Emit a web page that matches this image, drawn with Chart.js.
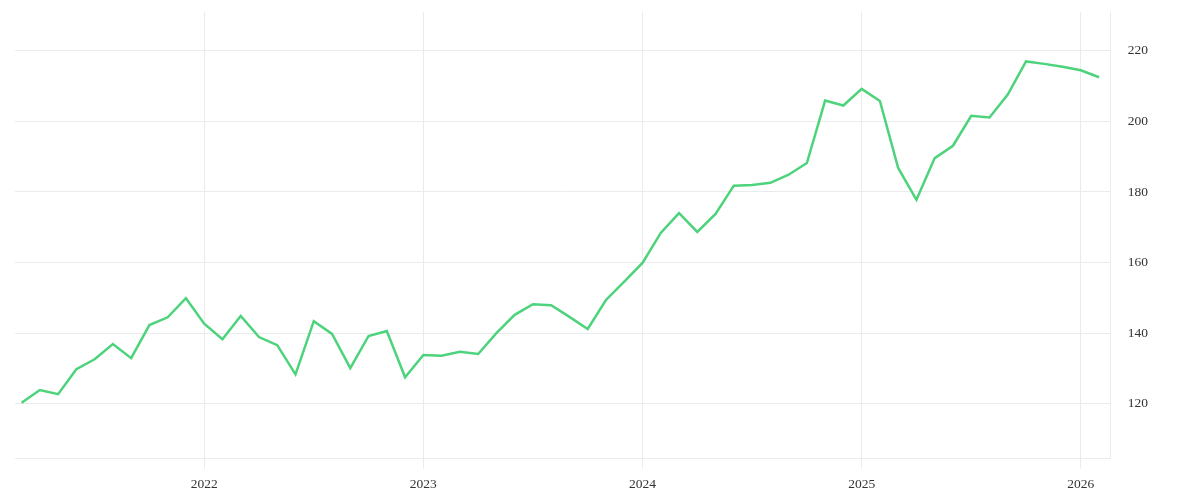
<!DOCTYPE html>
<html>
<head>
<meta charset="utf-8">
<script src="https://cdn.jsdelivr.net/npm/chart.js@4"></script>
<style>
    html, body { margin: 0; padding: 0; background: #fff; }
    #wrap { width: 1200px; height: 500px; }
</style>
</head>
<body>
<div id="wrap"><canvas id="priceChart"></canvas></div>
<script>
// Monthly values, first of each month
const months = [
    '2021-03', '2021-04', '2021-05', '2021-06', '2021-07', '2021-08', '2021-09', '2021-10', '2021-11', '2021-12',
    '2022-01', '2022-02', '2022-03', '2022-04', '2022-05', '2022-06', '2022-07', '2022-08', '2022-09', '2022-10', '2022-11', '2022-12',
    '2023-01', '2023-02', '2023-03', '2023-04', '2023-05', '2023-06', '2023-07', '2023-08', '2023-09', '2023-10', '2023-11', '2023-12',
    '2024-01', '2024-02', '2024-03', '2024-04', '2024-05', '2024-06', '2024-07', '2024-08', '2024-09', '2024-10', '2024-11', '2024-12',
    '2025-01', '2025-02', '2025-03', '2025-04', '2025-05', '2025-06', '2025-07', '2025-08', '2025-09', '2025-10', '2025-11', '2025-12',
    '2026-01', '2026-02'
];
const values = [
    120.3, 123.9, 122.7, 129.8, 132.6, 136.9, 132.9, 142.3, 144.5, 149.9,
    142.7, 138.3, 144.9, 138.9, 136.6, 128.3, 143.4, 139.8, 130.1, 139.2, 140.6, 127.5,
    133.8, 133.6, 134.7, 134.1, 140.0, 145.2, 148.2, 147.9, 144.6, 141.2, 149.4, 154.6,
    159.9, 168.4, 174.0, 168.7, 173.8, 181.8, 182.0, 182.6, 184.9, 188.2, 205.9, 204.5,
    209.2, 205.8, 186.8, 177.8, 189.6, 193.1, 201.6, 201.1, 207.6, 217.0, 216.3, 215.5,
    214.5, 212.5
];
const yearTicks = ['2022', '2023', '2024', '2025', '2026'];
const valueTicks = [120, 140, 160, 180, 200, 220];

const BASE_YEAR = 2022;
// month offset from Jan of the base year
function monthIndex(s) {
    const [y, m] = s.split('-').map(Number);
    return (y - BASE_YEAR) * 12 + (m - 1);
}

const points = months.map((m, i) => ({ x: monthIndex(m), y: values[i] }));
const gridColor = '#ebebeb';
const tickFont = { family: '"Liberation Serif", "DejaVu Serif", serif', size: 13.5 };

new Chart(document.getElementById('priceChart'), {
    type: 'line',
    data: {
        datasets: [{
            data: points,
            borderColor: '#4cd37b',
            borderWidth: 2.5,
            pointRadius: 0,
            tension: 0,
            fill: false
        }]
    },
    options: {
        responsive: true,
        maintainAspectRatio: false,
        animation: false,
        layout: { padding: { left: 15, right: 35, top: 12, bottom: -1 } },
        plugins: { legend: { display: false }, tooltip: { enabled: false } },
        scales: {
            x: {
                type: 'linear',
                min: -10.36,
                max: 49.64,
                afterBuildTicks: axis => {
                    axis.ticks = yearTicks.map(y => ({ value: monthIndex(y + '-01') }));
                },
                ticks: {
                    color: '#333',
                    font: tickFont,
                    padding: 8,
                    maxRotation: 0,
                    autoSkip: false,
                    callback: v => String(BASE_YEAR + Math.round(v / 12))
                },
                grid: { color: gridColor, tickLength: 10 },
                border: { color: gridColor }
            },
            y: {
                position: 'right',
                min: 104.4,
                max: 231,
                afterBuildTicks: axis => {
                    axis.ticks = valueTicks.map(v => ({ value: v }));
                },
                // labels sit well inside the range, no need for edge padding
                afterFit: axis => {
                    axis.paddingTop = 0;
                    axis.paddingBottom = 0;
                },
                ticks: { color: '#333', font: tickFont, padding: 17 },
                grid: { color: gridColor, drawTicks: false },
                border: { color: gridColor }
            }
        }
    }
});
</script>
</body>
</html>
